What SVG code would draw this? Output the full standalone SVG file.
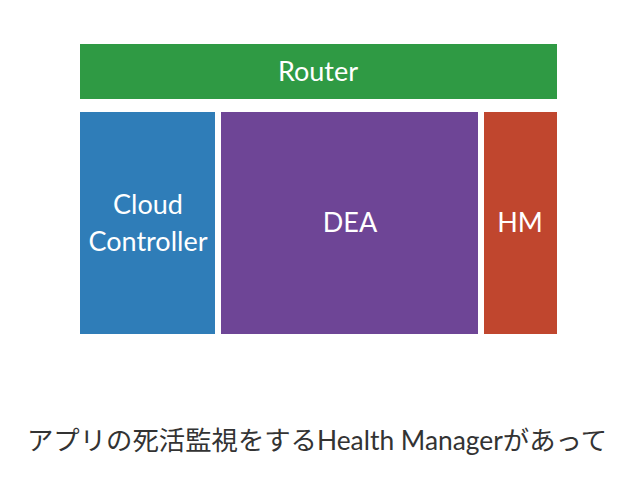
<svg xmlns="http://www.w3.org/2000/svg" width="638" height="479" viewBox="0 0 638 479">
<style>
.lbl{font-family:"Lato","Open Sans","Noto Sans",sans-serif;font-size:27px;font-weight:400;fill:#ffffff;text-anchor:middle}
.cap{font-family:"Lato","Noto Sans CJK JP",sans-serif;font-size:26px;font-weight:400;fill:#333333}
</style>
<rect width="638" height="479" fill="#ffffff"/>
<g id="router">
<rect x="80" y="44" width="477" height="55" fill="#2f9a44"/>
<text class="lbl" x="318" y="81">Router</text>
</g>
<g id="cloud-controller">
<rect x="80" y="112" width="135" height="222" fill="#2f7db8"/>
<text class="lbl" x="148" y="214">Cloud</text>
<text class="lbl" x="148" y="251">Controller</text>
</g>
<g id="dea">
<rect x="221" y="112" width="257" height="222" fill="#6e4596"/>
<text class="lbl" x="350" y="232">DEA</text>
</g>
<g id="hm">
<rect x="484" y="112" width="73" height="222" fill="#c0462e"/>
<text class="lbl" x="520" y="232">HM</text>
</g>
<g id="connectors"></g>
<text class="cap" x="27" y="450" textLength="580" lengthAdjust="spacingAndGlyphs">アプリの死活監視をするHealth Managerがあって</text>
</svg>
